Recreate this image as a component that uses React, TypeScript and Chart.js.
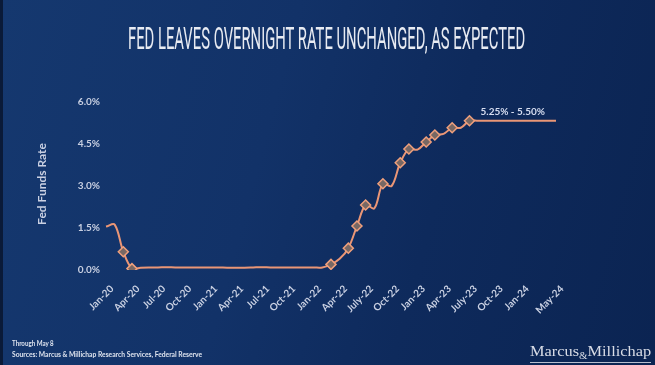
import React, { useEffect, useRef } from "react";
import { Chart, registerables } from "chart.js";

Chart.register(...registerables);

// ---------- data ----------
const months = [
  "Jan-20", "Feb-20", "Mar-20", "Apr-20", "May-20", "Jun-20", "Jul-20", "Aug-20", "Sep-20", "Oct-20", "Nov-20", "Dec-20",
  "Jan-21", "Feb-21", "Mar-21", "Apr-21", "May-21", "Jun-21", "Jul-21", "Aug-21", "Sep-21", "Oct-21", "Nov-21", "Dec-21",
  "Jan-22", "Feb-22", "Mar-22", "Apr-22", "May-22", "Jun-22", "Jul-22", "Aug-22", "Sep-22", "Oct-22", "Nov-22", "Dec-22",
  "Jan-23", "Feb-23", "Mar-23", "Apr-23", "May-23", "Jun-23", "Jul-23", "Aug-23", "Sep-23", "Oct-23", "Nov-23", "Dec-23",
  "Jan-24", "Feb-24", "Mar-24", "Apr-24", "May-24",
];

const rates = [
  1.55, 1.62, 0.65, 0.05, 0.08, 0.09, 0.09, 0.1, 0.09, 0.09, 0.09, 0.09,
  0.09, 0.09, 0.08, 0.08, 0.08, 0.09, 0.1, 0.09, 0.09, 0.09, 0.09, 0.09,
  0.09, 0.09, 0.2, 0.4, 0.78, 1.57, 2.32, 2.2, 3.08, 3.0, 3.83, 4.32,
  4.3, 4.57, 4.82, 4.86, 5.08, 5.08, 5.33, 5.33, 5.33, 5.33, 5.33, 5.33,
  5.33, 5.33, 5.33, 5.33, 5.33,
];

const markerMonths = [
  "Mar-20", "Apr-20", "Mar-22", "May-22", "Jun-22", "Jul-22", "Sep-22",
  "Nov-22", "Dec-22", "Feb-23", "Mar-23", "May-23", "Jul-23",
];

const tickMonths = [
  "Jan-20", "Apr-20", "Jul-20", "Oct-20", "Jan-21", "Apr-21", "Jul-21", "Oct-21", "Jan-22",
  "Apr-22", "Jul-22", "Oct-22", "Jan-23", "Apr-23", "Jul-23", "Oct-23", "Jan-24", "May-24",
];
const tickLabels = [
  "Jan-20", "Apr-20", "Jul-20", "Oct-20", "Jan-21", "Apr-21", "Jul-21", "Oct-21", "Jan-22",
  "Apr-22", "July-22", "Oct-22", "Jan-23", "Apr-23", "July-23", "Oct-23", "Jan-24", "May-24",
];

const yTicks = [0, 1.5, 3, 4.5, 6];

const annotationText = "5.25% - 5.50%";
const annotationMonth = "Dec-23";

const titleText = "FED LEAVES OVERNIGHT RATE UNCHANGED, AS EXPECTED";
const yTitle = "Fed Funds Rate";
const note1 = "Through May 8";
const note2 = "Sources: Marcus & Millichap Research Services, Federal Reserve";

// ---------- styles ----------
const lineColor = "#ea9676";
const labelColor = "#c9d0e2";
const tickFont = { family: "Lato, 'Liberation Sans', sans-serif", size: 10, weight: "bold" as const };

const rangeLabelPlugin = {
  id: "rangeLabel",
  afterDatasetsDraw(chart: any) {
    const { ctx, scales } = chart;
    const idx = months.indexOf(annotationMonth);
    const px = scales.x.getPixelForValue(idx);
    const py = scales.y.getPixelForValue(rates[idx]);
    ctx.save();
    ctx.font = "bold 10px Lato, 'Liberation Sans', sans-serif";
    ctx.fillStyle = "#d6ddf0";
    ctx.textAlign = "center";
    ctx.textBaseline = "bottom";
    ctx.fillText(annotationText, px, py - 4);
    ctx.restore();
  },
};

export default function App() {
  const canvasRef = useRef<HTMLCanvasElement | null>(null);
  const rootRef = useRef<HTMLDivElement | null>(null);

  useEffect(() => {
    const fit = () => {
      if (!rootRef.current) return;
      rootRef.current.querySelectorAll<HTMLElement>("[data-fit]").forEach((el) => {
        el.style.transform = "none";
        const w = el.offsetWidth;
        const target = Number(el.dataset.fit);
        if (w > 0) el.style.transform = `scaleX(${target / w})`;
      });
    };
    fit();

    const chart = new Chart(canvasRef.current!, {
      type: "line",
      data: {
        labels: months,
        datasets: [
          {
            data: rates,
            borderColor: lineColor,
            borderWidth: 2,
            tension: 0.35,
            fill: false,
            pointStyle: "rectRot",
            pointRadius: (c: any) => (markerMonths.includes(months[c.dataIndex]) ? 5 : 0),
            pointHoverRadius: 0,
            pointBackgroundColor: "#786864",
            pointBorderColor: "#f0a07c",
            pointBorderWidth: 1.5,
          },
        ],
      },
      options: {
        responsive: false,
        maintainAspectRatio: false,
        animation: false,
        layout: { padding: { left: 0, right: 99, top: 102, bottom: 0 } },
        plugins: { legend: { display: false }, tooltip: { enabled: false } },
        scales: {
          x: {
            type: "category",
            grid: { display: false, drawTicks: false },
            border: { display: false },
            afterFit: (s: any) => {
              s.height = 95;
            },
            ticks: {
              autoSkip: false,
              minRotation: 45,
              maxRotation: 45,
              padding: 13,
              labelOffset: 6,
              color: labelColor,
              font: tickFont,
              callback: (_v: any, i: number) => {
                const k = tickMonths.indexOf(months[i]);
                return k >= 0 ? tickLabels[k] : "";
              },
            },
          },
          y: {
            min: 0,
            max: 6,
            grid: { display: false, drawTicks: false },
            border: { display: false },
            afterFit: (s: any) => {
              s.width = 106;
            },
            afterBuildTicks: (s: any) => {
              s.ticks = yTicks.map((v) => ({ value: v }));
            },
            ticks: {
              padding: 6,
              color: labelColor,
              font: tickFont,
              callback: (v: any) => Number(v).toFixed(1) + "%",
            },
          },
        },
      },
      plugins: [rangeLabelPlugin],
    });

    let alive = true;
    if ((document as any).fonts?.ready) {
      (document as any).fonts.ready.then(() => {
        if (!alive) return;
        fit();
        chart.update();
      });
    }
    return () => {
      alive = false;
      chart.destroy();
    };
  }, []);

  return (
    <div
      ref={rootRef}
      style={{
        position: "absolute",
        left: 0,
        top: 0,
        width: 655,
        height: 365,
        overflow: "hidden",
        background: "linear-gradient(105deg, #15386f 0%, #123268 40%, #0e2a5c 65%, #0b2452 100%)",
        fontFamily: "Lato, sans-serif",
      }}
    >
      <div style={{ position: "absolute", left: 0, top: 0, width: 3, height: 365, background: "#0a1a38" }} />
      <canvas ref={canvasRef} width={655} height={365} style={{ position: "absolute", left: 0, top: 0 }} />
      <span
        data-fit="397"
        style={{
          position: "absolute",
          left: 128,
          top: 23,
          display: "inline-block",
          whiteSpace: "nowrap",
          transformOrigin: "left center",
          fontFamily: "Roboto, sans-serif",
          fontWeight: 400,
          fontSize: 31,
          lineHeight: 1,
          color: "#e8ebf2",
        }}
      >
        {titleText}
      </span>
      <div
        style={{
          position: "absolute",
          left: 42,
          top: 184,
          transform: "translate(-50%, -50%) rotate(-90deg)",
          whiteSpace: "nowrap",
          fontFamily: "Lato, sans-serif",
          fontWeight: 700,
          fontSize: 12,
          lineHeight: 1,
          color: labelColor,
        }}
      >
        {yTitle}
      </div>
      <span
        data-fit="42"
        style={{
          position: "absolute",
          left: 12,
          top: 340,
          display: "inline-block",
          whiteSpace: "nowrap",
          transformOrigin: "left center",
          fontWeight: 700,
          fontSize: 7.5,
          lineHeight: 1,
          color: "#dfe4ef",
        }}
      >
        {note1}
      </span>
      <span
        data-fit="190"
        style={{
          position: "absolute",
          left: 12,
          top: 351,
          display: "inline-block",
          whiteSpace: "nowrap",
          transformOrigin: "left center",
          fontWeight: 700,
          fontSize: 7.5,
          lineHeight: 1,
          color: "#dfe4ef",
        }}
      >
        {note2}
      </span>
      <span
        data-fit="121"
        style={{
          position: "absolute",
          left: 530,
          top: 344,
          display: "inline-block",
          whiteSpace: "nowrap",
          transformOrigin: "left center",
          fontFamily: "'Liberation Serif', 'DejaVu Serif', serif",
          fontSize: 15,
          lineHeight: 1,
          color: "#d8dce6",
          borderBottom: "1px solid #b8bfcf",
          paddingBottom: 1,
        }}
      >
        Marcus<span style={{ fontSize: 10, verticalAlign: -3 }}>&amp;</span>Millichap
      </span>
    </div>
  );
}
